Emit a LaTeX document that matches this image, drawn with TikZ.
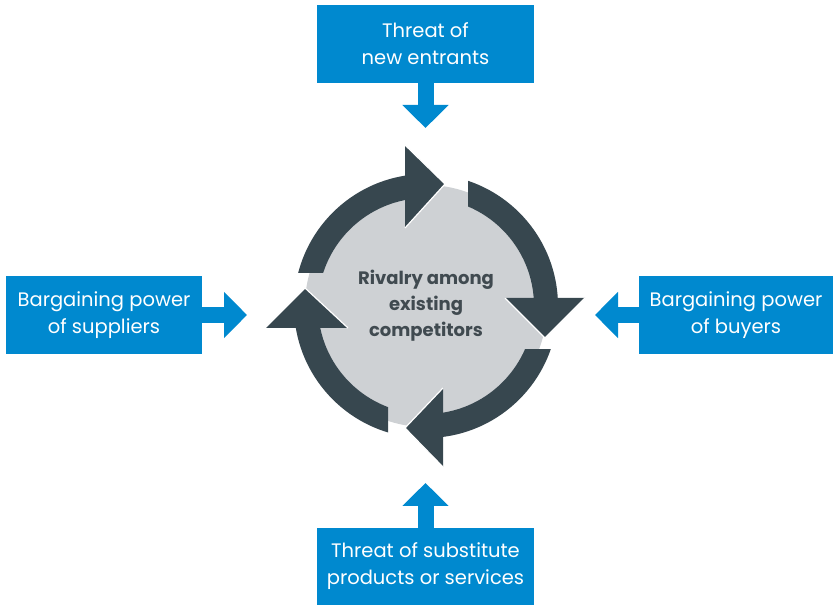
\documentclass[tikz,border=0pt]{standalone}
\usepackage{fontspec}
\setmainfont{Poppins}
\usetikzlibrary{arrows.meta}
\definecolor{forceblue}{RGB}{0,137,207}
\definecolor{ringdark}{RGB}{55,71,79}
\definecolor{ringgray}{RGB}{206,209,212}
\definecolor{rivaltext}{RGB}{64,74,80}
\tikzset{
  forcebox/.style={fill=forceblue,text=white,align=center,inner sep=0pt,
    minimum height=78pt,font=\fontsize{19.5}{27}\selectfont},
  forcearrow/.style={draw=forceblue,line width=16pt,-{Triangle[length=23pt,width=45pt]}},
}
\begin{document}
\begin{tikzpicture}[x=1pt,y=1pt]
	\useasboundingbox (0,0) rectangle (833,605);
	% the four outside forces
	\node[forcebox,minimum width=217pt] (entrants) at (425.5,561) {Threat of\\new entrants};
	\node[forcebox,minimum width=217pt,minimum height=77pt] (substitutes) at (425.5,38.5) {Threat of substitute\\products or services};
	\node[forcebox,minimum width=196pt] (suppliers) at (104,290) {Bargaining power\\of suppliers};
	\node[forcebox,minimum width=194pt] (buyers) at (736,290) {Bargaining power\\of buyers};
	\coordinate (entrtip) at (425.5,477);
	\coordinate (substip) at (425.5,122);
	\coordinate (supptip) at (247,290);
	\coordinate (buyetip) at (595,290);
	\draw[forcearrow] (entrants.south) -- (entrtip);
	\draw[forcearrow] (substitutes.north) -- (substip);
	\draw[forcearrow] (suppliers.east) -- (supptip);
	\draw[forcearrow] (buyers.west) -- (buyetip);
	% rivalry cycle
	\coordinate (c) at (426,299);
	\fill[ringgray] (c) circle (121);
	\foreach \xa/\ya/\xb/\yb in {0/332/405/605,468/307/833/605,443/0/833/255,0/0/388/277}{
		\begin{scope}
			\clip (\xa,\ya) rectangle (\xb,\yb);
			\fill[ringdark,even odd rule] (c) circle (132) (c) circle (108);
		\end{scope}
	}
	\foreach \ax/\ay/\tx/\ty/\bx/\by in {405/460/445/421/405/377,505/307/545/267/585/307,443/217/405/177/443/138,265/277/305/317/348/277}{
		\fill[ringdark] (\ax,\ay) -- (\tx,\ty) -- (\bx,\by) -- cycle;
		\draw[white,line width=1.2pt,line join=miter] (\ax,\ay) -- (\tx,\ty) -- (\bx,\by);
	}
	\node[text=rivaltext,align=center,font=\bfseries\fontsize{18}{26}\selectfont] (rivalry) at (c) {Rivalry among\\existing\\competitors};
\end{tikzpicture}
\end{document}
